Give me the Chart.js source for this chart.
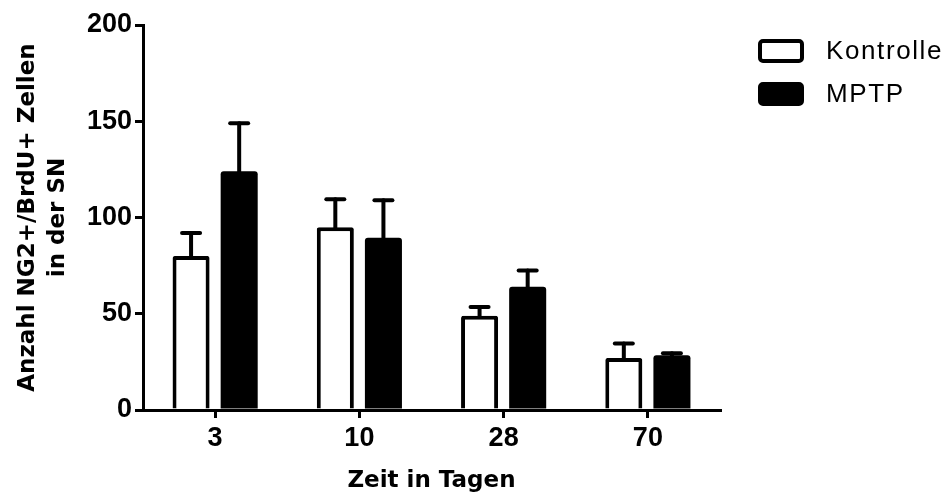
<!DOCTYPE html>
<html>
<head>
<meta charset="utf-8">
<script src="https://cdn.jsdelivr.net/npm/chart.js@4/dist/chart.umd.min.js"></script>
<style>
html,body{margin:0;padding:0;background:#fff;}
canvas{display:block;}
</style>
</head>
<body>
<canvas id="c" width="948" height="496"></canvas>
<script>
const categories = ['3', '10', '28', '70'];
const kontrolleMean = [80, 95, 49, 27];
const kontrolleSEM = [12, 14.5, 4.5, 7.5];
const mptpMean = [124, 89.5, 64, 28.5];
const mptpSEM = [25, 19.5, 8.5, 1];
const yTicks = [0, 50, 100, 150, 200];
const seriesLabels = ['Kontrolle', 'MPTP'];
const xTitle = 'Zeit in Tagen';
const yTitle = ['Anzahl NG2+/BrdU+ Zellen', 'in der SN'];

const errorBarPlugin = {
  id: 'errorBars',
  afterDatasetsDraw(chart) {
    const ctx = chart.ctx;
    const yScale = chart.scales.y;
    chart.data.datasets.forEach((ds, di) => {
      const meta = chart.getDatasetMeta(di);
      meta.data.forEach((el, i) => {
        const top = yScale.getPixelForValue(ds.data[i] + ds.errors[i]);
        ctx.save();
        ctx.strokeStyle = '#000';
        ctx.lineWidth = 4;
        ctx.lineCap = 'round';
        ctx.beginPath();
        ctx.moveTo(el.x, el.y);
        ctx.lineTo(el.x, top);
        ctx.stroke();
        ctx.beginPath();
        ctx.moveTo(el.x - 9, top);
        ctx.lineTo(el.x + 9, top);
        ctx.stroke();
        ctx.restore();
      });
    });
  }
};

const legendPlugin = {
  id: 'customLegend',
  afterDraw(chart) {
    const ctx = chart.ctx;
    ctx.save();
    chart.data.datasets.forEach((ds, i) => {
      const bx = 760, by = 41 + i * 43, bw = 42, bh = 20;
      ctx.beginPath();
      ctx.roundRect(bx, by, bw, bh, 3);
      ctx.fillStyle = ds.backgroundColor;
      ctx.fill();
      ctx.lineWidth = 4;
      ctx.strokeStyle = '#000';
      ctx.stroke();
      ctx.fillStyle = '#000';
      ctx.font = '26px "Liberation Sans", Arial, sans-serif';
      try { ctx.letterSpacing = '1.6px'; } catch (e) {}
      ctx.textBaseline = 'middle';
      ctx.textAlign = 'left';
      ctx.fillText(ds.label, 826, by + bh / 2 + 1);
    });
    ctx.restore();
  }
};

new Chart(document.getElementById('c'), {
  type: 'bar',
  data: {
    labels: categories,
    datasets: [
      {
        label: seriesLabels[0],
        data: kontrolleMean,
        errors: kontrolleSEM,
        backgroundColor: '#ffffff',
        borderColor: '#000000',
        borderWidth: 4,
        borderRadius: 2,
        categoryPercentage: 0.667,
        barPercentage: 0.77
      },
      {
        label: seriesLabels[1],
        data: mptpMean,
        errors: mptpSEM,
        backgroundColor: '#000000',
        borderColor: '#000000',
        borderWidth: 0,
        borderRadius: 3,
        categoryPercentage: 0.667,
        barPercentage: 0.77
      }
    ]
  },
  options: {
    responsive: false,
    animation: false,
    layout: { padding: { top: 25, right: 228, left: 0, bottom: 0 } },
    plugins: {
      legend: { display: false },
      tooltip: { enabled: false }
    },
    scales: {
      x: {
        grid: {
          display: true,
          drawOnChartArea: false,
          drawTicks: true,
          tickLength: 8,
          lineWidth: 3,
          color: '#000',
          offset: false
        },
        border: { display: true, color: '#000', width: 3 },
        ticks: {
          color: '#000',
          font: { family: '"Liberation Sans", Arial, sans-serif', size: 27, weight: 'bold' },
          padding: 4
        },
        title: {
          display: true,
          text: xTitle,
          color: '#000',
          font: { family: '"DejaVu Sans", sans-serif', size: 23, weight: 'bold', lineHeight: 1.2 },
          padding: { top: 0, bottom: 1 }
        },
        afterFit(scale) { scale.height = 86; }
      },
      y: {
        min: 0,
        max: 200,
        afterBuildTicks(scale) { scale.ticks = yTicks.map(v => ({ value: v })); },
        grid: {
          display: true,
          drawOnChartArea: false,
          drawTicks: true,
          tickLength: 8,
          lineWidth: 3,
          color: '#000'
        },
        border: { display: true, color: '#000', width: 3 },
        ticks: {
          color: '#000',
          font: { family: '"Liberation Sans", Arial, sans-serif', size: 27, weight: 'bold' },
          padding: 3
        },
        title: {
          display: true,
          text: yTitle,
          color: '#000',
          font: { family: '"DejaVu Sans", sans-serif', size: 23, weight: 'bold', lineHeight: 1.3 },
          padding: { top: 13, bottom: 0 }
        },
        afterFit(scale) { scale.width = 143; }
      }
    }
  },
  plugins: [errorBarPlugin, legendPlugin]
});
</script>
</body>
</html>
